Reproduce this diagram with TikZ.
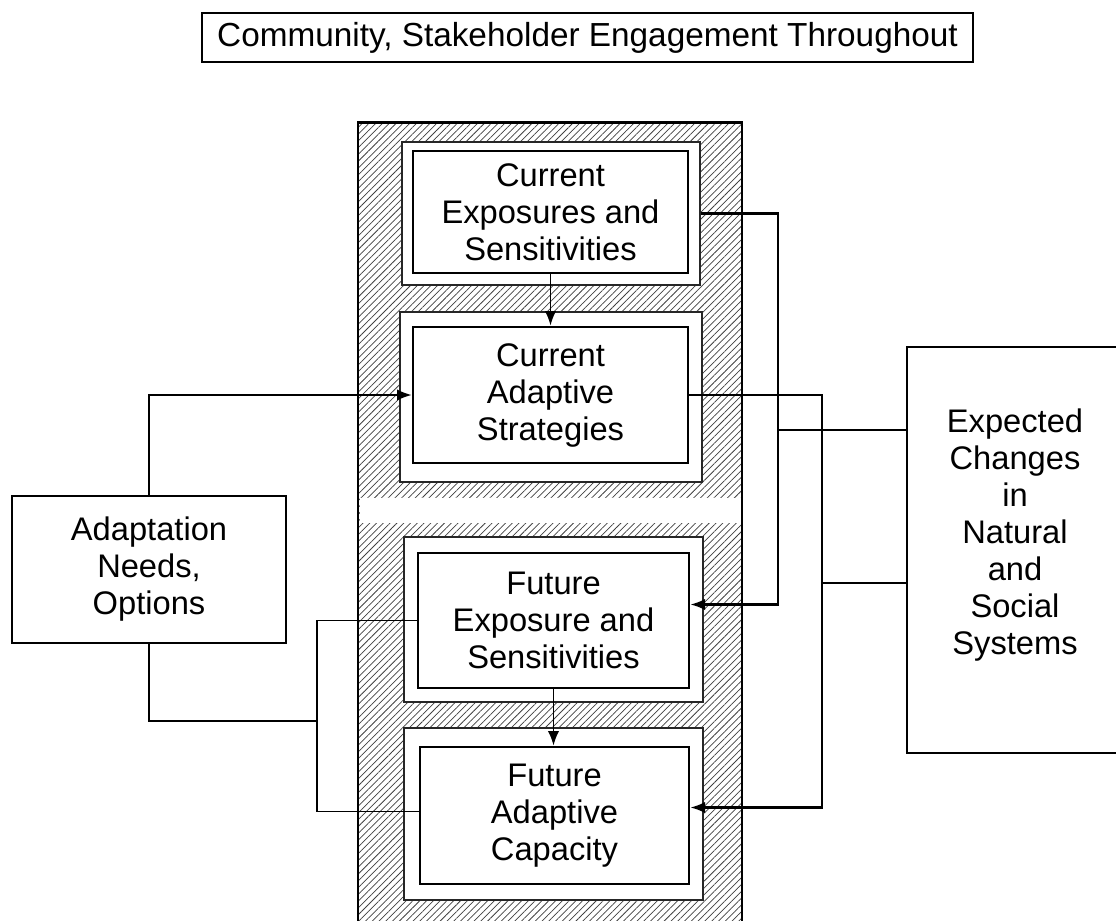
\documentclass[tikz,border=0pt]{standalone}
\usepackage{fontspec}
\setmainfont{Liberation Sans}
\usetikzlibrary{positioning, calc, arrows.meta, patterns.meta}
\newcommand{\px}{0.75pt}
\newcommand{\boxfont}{\fontsize{24.5}{27.75}\selectfont}

\tikzset{
    titlebox/.style={draw, line width=2pt, inner sep=0pt, font=\fontsize{25}{28}\selectfont},
    colbox/.style={draw, line width=2.2pt, inner sep=0pt, pattern={Lines[angle=45, distance=3.6pt, line width=0.55pt]}, pattern color=black!75},
    gapbox/.style={fill=white, inner sep=0pt},
    framebox/.style={draw=black!85, line width=1.1pt, fill=white, inner sep=0pt},
    stagebox/.style={draw, line width=2pt, fill=white, inner sep=0pt, align=center, font=\boxfont},
    sidebox/.style={draw, line width=1.6pt, fill=white, inner sep=0pt, align=center, font=\boxfont},
    wire/.style={line width=1.8pt},
    thinwire/.style={line width=1.4pt}
}

\begin{document}
\begin{tikzpicture}[x=\px, y=-\px, >={Latex[length=11pt, width=8.5pt]}]
    \useasboundingbox (0,0) rectangle (1116,920);

    %Title
    \node[titlebox, minimum width=771*\px, minimum height=49*\px] (title) at (587.5,37.5) {Community, Stakeholder Engagement Throughout};

    %Column
    \node[colbox, minimum width=384*\px, minimum height=820*\px, anchor=north] (col) at (550,122) {};
    \node[gapbox, minimum width=381*\px, minimum height=25*\px] (gap) at (550,510.5) {};

    %Frames
    \node[framebox, minimum width=298*\px, minimum height=143*\px] (frame1) at (551,213.5) {};
    \node[framebox, minimum width=302*\px, minimum height=170*\px] (frame2) at (551,397) {};
    \node[framebox, minimum width=299*\px, minimum height=165*\px] (frame3) at (553.5,619.5) {};
    \node[framebox, minimum width=299*\px, minimum height=172*\px] (frame4) at (553.5,814) {};

    %Stages
    \node[stagebox, minimum width=275*\px, minimum height=122*\px] (ces) at (550.5,212) {Current\\Exposures and\\Sensitivities};
    \node[stagebox, minimum width=275*\px, minimum height=136*\px] (cas) at (550.5,395) {Current\\Adaptive\\Strategies};
    \node[stagebox, minimum width=271*\px, minimum height=135*\px] (fes) at (553.5,620.5) {Future\\Exposure and\\Sensitivities};
    \node[stagebox, minimum width=269*\px, minimum height=137*\px] (fac) at (554.5,815.5) {Future\\Adaptive\\Capacity};

    %Side boxes
    \node[sidebox, minimum width=274*\px, minimum height=147*\px] (ada) at (149,569.5) {Adaptation\\Needs,\\Options};
    \node[sidebox, line width=2pt, minimum width=216*\px, minimum height=406*\px] (exp) at (1015,550) {Expected\\Changes\\in\\Natural\\and\\Social\\Systems\\[0pt]\mbox{}};

    %Bus points
    \coordinate (busA) at (778,430);
    \coordinate (busB) at (822,583);
    \coordinate (busC) at (317,721);

    %Lines (right side)
    \draw[wire, ->] (frame1.east) -| (busA) |- ([yshift=12pt]fes.east);
    \draw[wire, ->] (cas.east) -| (busB) |- ([yshift=6pt]fac.east);
    \draw[wire] (exp.west |- busA) -- (busA);
    \draw[thinwire] (exp.west |- busB) -- (busB);

    %Lines (left side)
    \draw[thinwire, ->] (ada.north) |- (cas.west);
    \draw[thinwire] (ada.south) |- (busC);
    \draw[thinwire] (fes.west) -| (busC) |- ([yshift=3pt]fac.west);

    %Lines (between stages)
    \draw[thinwire, ->] (ces.south) -- (cas.north);
    \draw[thinwire, ->] (fes.south) -- (fes.south |- fac.north);
\end{tikzpicture}
\end{document}
